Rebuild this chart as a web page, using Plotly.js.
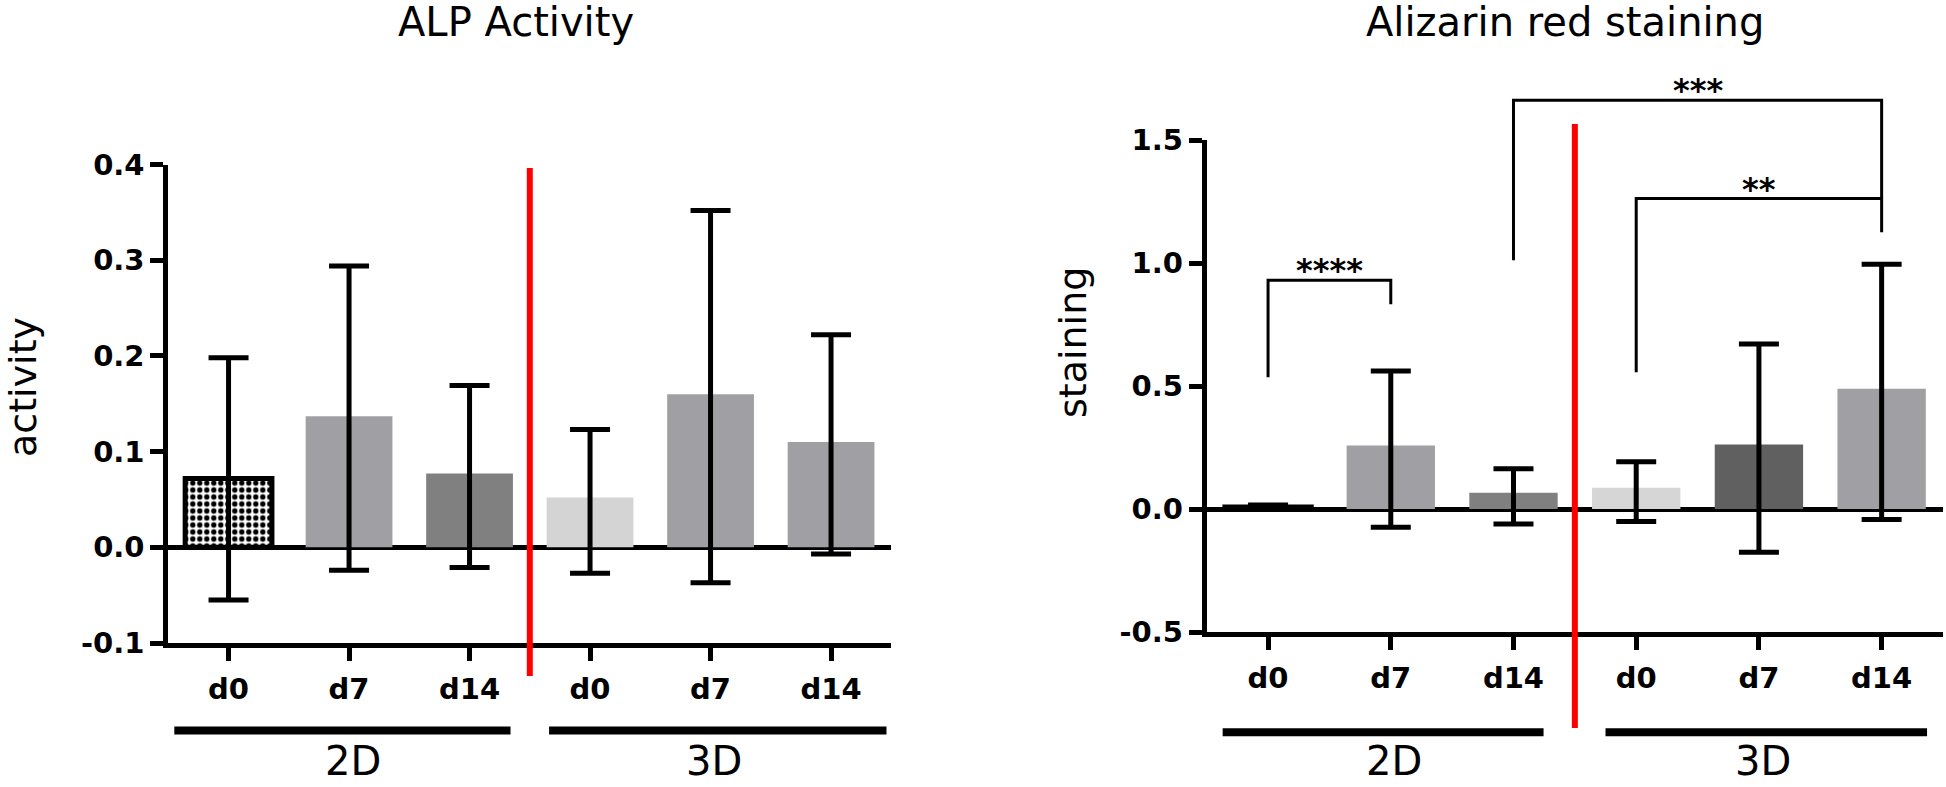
<!DOCTYPE html>
<html>
<head>
<meta charset="utf-8">
<script src="https://cdn.plot.ly/plotly-3.0.1.min.js"></script>
<style>html,body{margin:0;padding:0;background:#fff;}#chart{width:1946px;height:787px;}</style>
</head>
<body>
<div id="chart"></div>
<script>
// ---------------- data ----------------
const categories = ['d0', 'd7', 'd14', 'd0', 'd7', 'd14'];
const groups = ['2D', '3D'];

// ALP Activity (bar means, error bar ends)
const alpMean  = [0.072, 0.137, 0.077, 0.052, 0.160, 0.110];
const alpUpper = [0.198, 0.294, 0.169, 0.123, 0.352, 0.222];
const alpLower = [-0.055, -0.024, -0.021, -0.027, -0.037, -0.007];

// Alizarin red staining
const arsMean  = [0.012, 0.258, 0.066, 0.086, 0.262, 0.489];
const arsUpper = [0.016, 0.561, 0.164, 0.192, 0.671, 0.995];
const arsLower = [0.008, -0.074, -0.061, -0.051, -0.176, -0.043];

// tick labels
const alpTickVals = [-0.1, 0, 0.1, 0.2, 0.3, 0.4];
const alpTickText = ['-0.1', '0.0', '0.1', '0.2', '0.3', '0.4'];
const arsTickVals = [-0.5, 0, 0.5, 1.0, 1.5];
const arsTickText = ['-0.5', '0.0', '0.5', '1.0', '1.5'];

// significance brackets (staining): category index pairs, labels, bracket heights
const sigPairs  = [[0, 1], [2, 5], [3, 5]];
const sigLabels = ['****', '***', '**'];
const sigTop    = [0.93, 1.662, 1.262];
const sigLegL   = [0.536, 1.011, 0.556];
const sigLegR   = [0.832, 1.125, 1.262];

// ---------------- styling ----------------
const alpColors = ['#000000', '#a0a0a4', '#808080', '#d4d4d4', '#a0a0a4', '#a0a0a4'];
const arsColors = ['#000000', '#a0a0a4', '#808080', '#d6d6d6', '#606060', '#a0a0a4'];
const W = 1946, H = 787;
const px = v => v / W;            // pixel -> paper x
const py = v => 1 - v / H;        // pixel -> paper y

const xIdx = categories.map((c, i) => i);
const diff = (a, b) => a.map((v, i) => Math.abs(v - b[i]));

const patShapes = categories.map((c, i) => i === 0 ? '.' : '');
function barTrace(mean, upper, lower, colors, xa, ya, lw0) {
  return {
    type: 'bar', x: xIdx, y: mean, xaxis: xa, yaxis: ya, width: 0.72,
    marker: {
      color: colors,
      line: {color: '#000', width: categories.map((c, i) => i === 0 ? lw0 : 0)},
      pattern: {shape: patShapes, fgcolor: '#ffffff', bgcolor: '#000000', size: 7, solidity: 0.45}
    },
    error_y: {type: 'data', symmetric: false, array: diff(upper, mean), arrayminus: diff(mean, lower),
              color: '#000', thickness: 5, width: 20},
    showlegend: false, hoverinfo: 'skip'
  };
}

const tickFont = {family: 'DejaVu Sans', size: 29, color: '#000', weight: 'bold'};
function xAxis(dom) {
  return {domain: dom, range: [-0.5, 5.5], tickvals: xIdx, ticktext: categories,
          showline: true, linewidth: 5, linecolor: '#000', ticks: 'outside', ticklen: 13, tickwidth: 5,
          tickcolor: '#000', showgrid: false, zeroline: false, tickfont: tickFont, ticklabelstandoff: 3,
          automargin: false, fixedrange: true};
}
function yAxis(dom, range, tv, tt, anchor) {
  return {domain: dom, range: range, tickvals: tv, ticktext: tt, anchor: anchor,
          showline: true, linewidth: 5, linecolor: '#000', ticks: 'outside', ticklen: 13, tickwidth: 5,
          tickcolor: '#000', showgrid: false, zeroline: true, zerolinecolor: '#000', zerolinewidth: 5,
          tickfont: tickFont, automargin: false, fixedrange: true};
}

const y1Dom = [py(643), py(164.5)], y2Dom = [py(632), py(140)];
const y1Range = [-0.1, 0.4], y2Range = [-0.5, 1.5];
const paperY2 = v => y2Dom[0] + (v - y2Range[0]) / (y2Range[1] - y2Range[0]) * (y2Dom[1] - y2Dom[0]);

const shapes = [];
const annotations = [];
const black = '#000';

// red separators
shapes.push({type: 'line', xref: 'x', yref: 'paper', x0: 2.5, x1: 2.5, y0: py(676), y1: py(168), line: {color: '#ff0000', width: 6}});
shapes.push({type: 'line', xref: 'x2', yref: 'paper', x0: 2.5, x1: 2.5, y0: py(728), y1: py(124), line: {color: '#ff0000', width: 6}});

// group bars + labels
const grpSpans1 = [[-0.45, 2.34], [2.66, 5.46]];
const grpSpans2 = [[-0.37, 2.245], [2.75, 5.37]];
[[grpSpans1, 'x', 730.5], [grpSpans2, 'x2', 732.3]].forEach(([spans, xr, yy]) => {
  spans.forEach((s, g) => {
    shapes.push({type: 'line', xref: xr, yref: 'paper', x0: s[0], x1: s[1], y0: py(yy), y1: py(yy), line: {color: black, width: 8}});
    annotations.push({xref: xr, yref: 'paper', x: g * 3 + 1.03, y: py(786), yanchor: 'bottom', xanchor: 'center',
                      text: groups[g], showarrow: false, font: {family: 'DejaVu Sans', size: 40, color: black}});
  });
});

// significance brackets
sigPairs.forEach((p, k) => {
  let path = 'M ' + p[0] + ' ' + paperY2(sigLegL[k]) + ' L ' + p[0] + ' ' + paperY2(sigTop[k]) +
             ' L ' + p[1] + ' ' + paperY2(sigTop[k]) + ' L ' + p[1] + ' ' + paperY2(sigLegR[k]);
  shapes.push({type: 'path', xref: 'x2', yref: 'paper', path: path, line: {color: black, width: 3}});
  annotations.push({xref: 'x2', yref: 'paper', x: (p[0] + p[1]) / 2, y: paperY2(sigTop[k]), yanchor: 'bottom', yshift: -11,
                    text: sigLabels[k], showarrow: false, font: {family: 'DejaVu Sans', size: 32, color: black, weight: 'bold'}});
});

// titles
annotations.push({xref: 'paper', yref: 'paper', x: px(516), y: py(-3), yanchor: 'top', xanchor: 'center', showarrow: false,
                  text: 'ALP Activity', font: {family: 'DejaVu Sans', size: 40, color: black}});
annotations.push({xref: 'paper', yref: 'paper', x: px(1565), y: py(-3), yanchor: 'top', xanchor: 'center', showarrow: false,
                  text: 'Alizarin red staining', font: {family: 'DejaVu Sans', size: 40, color: black}});
// axis titles
annotations.push({xref: 'paper', yref: 'paper', x: px(23), y: py(387), textangle: -90, xanchor: 'center', yanchor: 'middle', showarrow: false,
                  text: 'activity', font: {family: 'DejaVu Sans', size: 38, color: black}});
annotations.push({xref: 'paper', yref: 'paper', x: px(1073), y: py(343), textangle: -90, xanchor: 'center', yanchor: 'middle', showarrow: false,
                  text: 'staining', font: {family: 'DejaVu Sans', size: 38, color: black}});

const data = [
  barTrace(alpMean, alpUpper, alpLower, alpColors, 'x', 'y', 5),
  barTrace(arsMean, arsUpper, arsLower, arsColors, 'x2', 'y2', 3)
];

const layout = {
  width: W, height: H, margin: {l: 0, r: 0, t: 0, b: 0}, paper_bgcolor: '#fff', plot_bgcolor: 'rgba(0,0,0,0)',
  showlegend: false,
  xaxis: xAxis([px(168.3), px(891.3)]),
  yaxis: yAxis(y1Dom, y1Range, alpTickVals, alpTickText, 'x'),
  xaxis2: Object.assign(xAxis([px(1206.7), px(1943)]), {anchor: 'y2'}),
  yaxis2: yAxis(y2Dom, y2Range, arsTickVals, arsTickText, 'x2'),
  shapes: shapes, annotations: annotations
};
layout.xaxis.anchor = 'y';

Plotly.newPlot('chart', data, layout, {displayModeBar: false, staticPlot: true});
</script>
</body>
</html>
